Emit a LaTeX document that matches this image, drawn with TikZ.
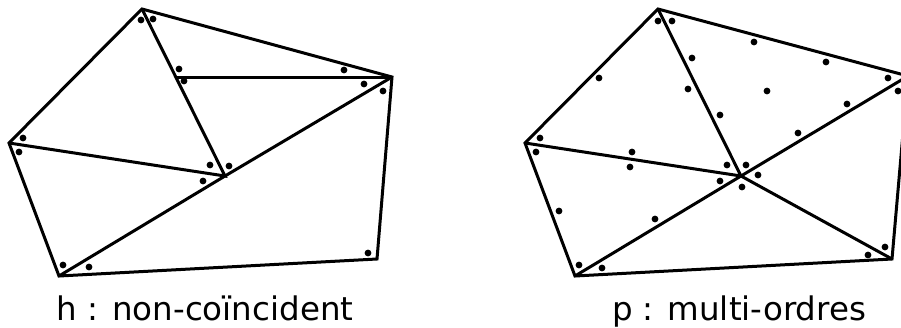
\documentclass[tikz,border=0pt]{standalone}
\usepackage{fontspec}
\setmainfont{DejaVu Sans}
\usetikzlibrary{positioning}

\tikzset{
  edgeline/.style={line width=3pt, line join=miter},
  pt/.style={fill=black},
  caption/.style={anchor=base, font=\fontsize{32.5}{38}\selectfont}
}

\begin{document}
\begin{tikzpicture}[x=1pt,y=-1pt]
   \path[use as bounding box, clip] (0,0) rectangle (901,327);

   % h : non-coincident
   \coordinate (hT)  at (142,9);
   \coordinate (hR)  at (392,77);
   \coordinate (hL)  at (9,143);
   \coordinate (hB)  at (59,276);
   \coordinate (hBR) at (377,259);
   \coordinate (hC)  at (225,176);
   \coordinate (hD)  at (176,77);

   \draw[edgeline] (hT) -- (hR) -- (hBR) -- (hB) -- (hL) -- cycle;
   \draw[edgeline] (hT) -- (hC) -- (hL);
   \draw[edgeline] (hB) -- (hC) -- (hR);
   \draw[edgeline] (hD) -- (hR);

   \foreach \x/\y in {141/20, 153/19, 179/69, 184/81, 344/70, 364/84, 383/91,
                      23/138, 19/152, 210/165, 229/166, 203/181,
                      63/265, 89/267, 368/253}
     \fill[pt] (\x,\y) circle[radius=3.4pt];

   \node[caption] (hlabel) at (205,320) {h : non-coïncident};

   % p : multi-ordres
   \coordinate (pT)  at (658,9);
   \coordinate (pR)  at (908,76);
   \coordinate (pL)  at (525,143);
   \coordinate (pB)  at (575,276);
   \coordinate (pBR) at (892,259);
   \coordinate (pC)  at (741,176);

   \draw[edgeline] (pT) -- (pR) -- (pBR) -- (pB) -- (pL) -- cycle;
   \draw[edgeline] (pT) -- (pC) -- (pL);
   \draw[edgeline] (pB) -- (pC) -- (pR);
   \draw[edgeline] (pC) -- (pBR);

   \foreach \x/\y in {658/21, 672/21, 754/42, 826/62, 888/78, 898/91,
                      692/58, 688/89, 767/91,
                      599/78, 720/115, 847/104, 798/133,
                      540/138, 536/152, 632/152, 630/167,
                      727/165, 746/165, 758/175, 720/181, 742/187,
                      559/211, 655/219, 579/265, 602/268, 885/247, 868/255}
     \fill[pt] (\x,\y) circle[radius=3.4pt];

   \node[caption] (plabel) at (739,320) {p : multi-ordres};
\end{tikzpicture}
\end{document}
